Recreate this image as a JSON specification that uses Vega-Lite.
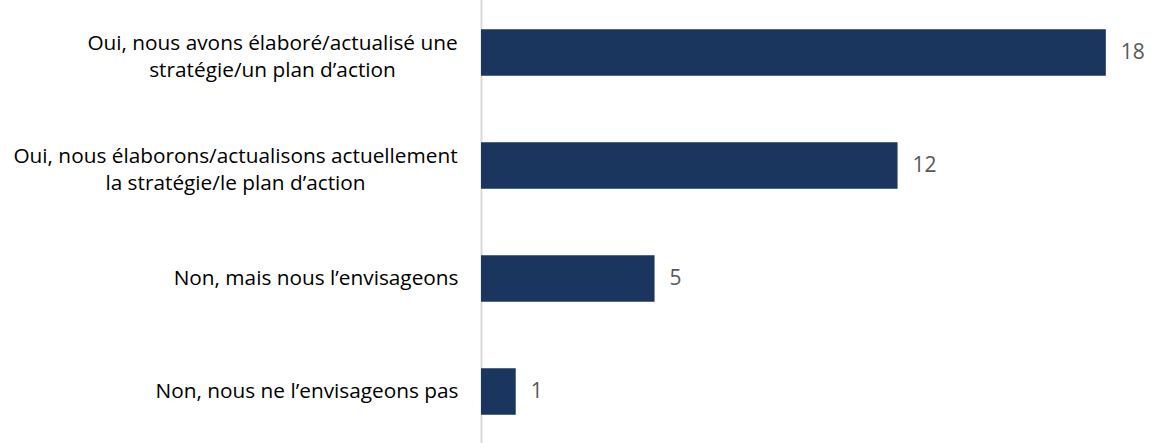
{
  "$schema": "https://vega.github.io/schema/vega-lite/v6.json",
  "autosize": "none",
  "width": 671,
  "height": 452,
  "padding": {"left": 481, "top": -4, "right": 0, "bottom": 0},
  "background": "white",
  "config": {"view": {"stroke": null}, "font": "Open Sans"},
  "data": {
    "values": [
      {"categorie": "Oui, nous avons élaboré/actualisé une|stratégie/un plan d’action", "ordre": 1, "valeur": 18},
      {"categorie": "Oui, nous élaborons/actualisons actuellement|la stratégie/le plan d’action", "ordre": 2, "valeur": 12},
      {"categorie": "Non, mais nous l’envisageons", "ordre": 3, "valeur": 5},
      {"categorie": "Non, nous ne l’envisageons pas", "ordre": 4, "valeur": 1}
    ]
  },
  "encoding": {
    "y": {
      "field": "categorie",
      "type": "nominal",
      "sort": {"field": "ordre", "order": "ascending"},
      "scale": {"paddingInner": 0.59, "paddingOuter": 0.295},
      "axis": {
        "title": null,
        "ticks": false,
        "labelFontSize": 20.8,
        "labelColor": "#000000",
        "labelFont": "Open Sans",
        "labelLineHeight": 27,
        "labelLimit": 500,
        "labelExpr": "split(datum.label, '|')",
        "labelAlign": {"condition": {"test": "indexof(datum.value, '|') >= 0", "value": "center"}, "value": "right"},
        "labelPadding": {
          "condition": [
            {"test": "indexof(datum.value, 'avons') >= 0", "value": 209},
            {"test": "indexof(datum.value, 'élaborons') >= 0", "value": 246}
          ],
          "value": 23
        },
        "labelOffset": {"condition": {"test": "indexof(datum.value, '|') >= 0", "value": -9}, "value": 0},
        "domainColor": "#d9d9d9",
        "domainWidth": 2
      }
    },
    "x": {
      "field": "valeur",
      "type": "quantitative",
      "scale": {"domain": [0, 19.33], "nice": false},
      "axis": null
    }
  },
  "layer": [
    {"mark": {"type": "bar", "color": "#1a365f"}},
    {
      "mark": {"type": "text", "align": "left", "dx": 15, "fontSize": 21, "color": "#595959", "font": "Open Sans"},
      "encoding": {"text": {"field": "valeur", "type": "quantitative"}}
    }
  ]
}
